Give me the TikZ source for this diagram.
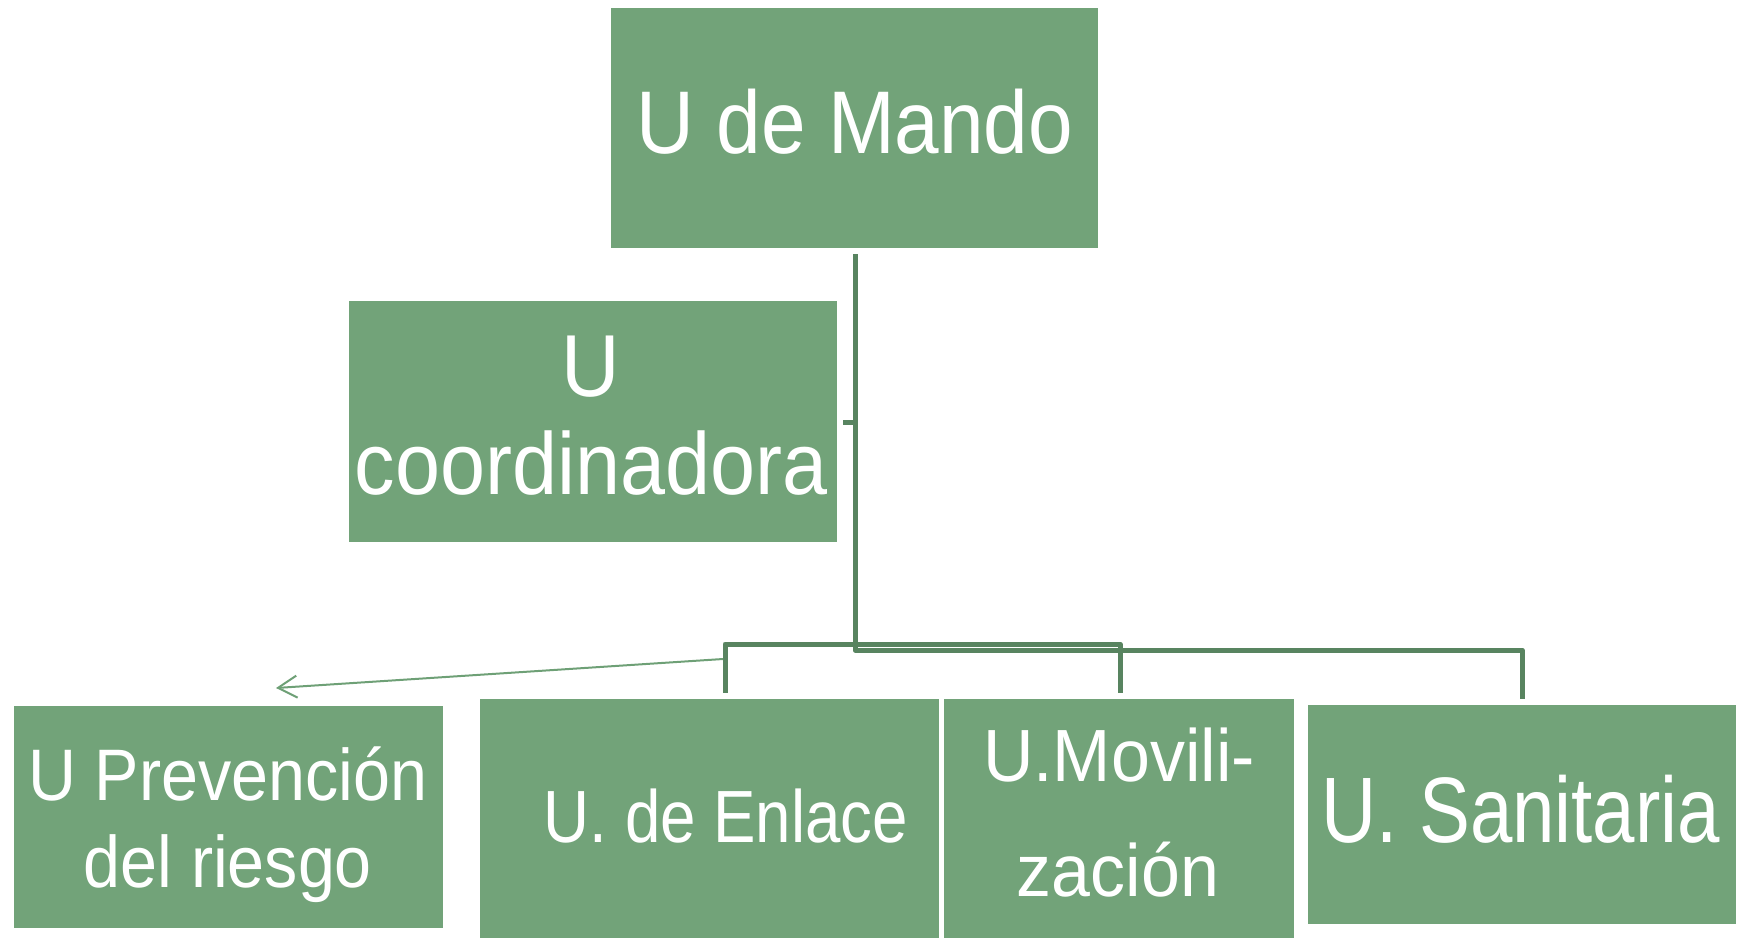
\documentclass[tikz,border=0pt]{standalone}
\usepackage{fontspec}
\setmainfont{Liberation Sans}
\usepackage{graphicx}
\usetikzlibrary{arrows.meta}
\definecolor{boxgreen}{RGB}{114,163,121}
\definecolor{linegreen}{RGB}{88,132,96}
\definecolor{arrowgreen}{RGB}{110,160,118}
\newcommand{\cx}[2]{\scalebox{#1}[1]{#2}}
\tikzset{
  box/.style={rectangle, fill=boxgreen, draw=none, inner sep=0pt},
  txt/.style={anchor=base, text=white, inner sep=0pt},
  conn/.style={draw=linegreen, line width=5pt, line join=round},
  thinarrow/.style={draw=arrowgreen, line width=2pt, {Straight Barb[length=19pt,width=22pt,line width=2pt]}-}
}
\begin{document}
\begin{tikzpicture}[x=1pt,y=-1pt]
\useasboundingbox (0,0) rectangle (1738,938);
% boxes
\node[box, minimum width=487pt, minimum height=240pt] (mando) at (854.5,128) {};
\node[box, minimum width=488pt, minimum height=241pt] (coord) at (593,421.5) {};
\node[box, minimum width=429pt, minimum height=222pt] (prev) at (228.5,817) {};
\node[box, minimum width=459pt, minimum height=239pt] (enl) at (709.5,818.5) {};
\node[box, minimum width=350pt, minimum height=239pt] (movil) at (1119,818.5) {};
\node[box, minimum width=428pt, minimum height=219pt] (sanit) at (1522,814.5) {};
% texts
\node[txt, font=\fontsize{89}{100}\selectfont] (tmando) at (855,153) {\cx{0.90}{U de Mando}};
\node[txt, font=\fontsize{88}{100}\selectfont] (tcoord1) at (591,396) {\cx{0.92}{U}};
\node[txt, font=\fontsize{88}{100}\selectfont] (tcoord2) at (591,494) {\cx{0.92}{coordinadora}};
\node[txt, font=\fontsize{73}{90}\selectfont] (tprev1) at (228,800) {\cx{0.91}{U Prevención}};
\node[txt, font=\fontsize{73}{90}\selectfont] (tprev2) at (228,887) {\cx{0.91}{del riesgo}};
\node[txt, font=\fontsize{74}{90}\selectfont] (tenl) at (726,842) {\cx{0.86}{U. de Enlace}};
\node[txt, font=\fontsize{74}{90}\selectfont] (tmov1) at (1119,781) {\cx{0.945}{U.Movili-}};
\node[txt, font=\fontsize{74}{90}\selectfont] (tmov2) at (1118,896) {\cx{0.945}{zación}};
\node[txt, font=\fontsize{93}{100}\selectfont] (tsan) at (1521,842) {\cx{0.82}{U. Sanitaria}};
% connectors
\coordinate (top) at (855,254);
\coordinate (j1) at (855,644);
\coordinate (j2) at (855,650);
\coordinate (enlTop) at (725,693);
\coordinate (movTop) at (1120,693);
\coordinate (sanTop) at (1522,699);
\draw[conn] (top) -- (j1) -| (enlTop);
\draw[conn] (j1) -| (movTop);
\draw[conn] (top) -- (j2) -| (sanTop);
\coordinate (tick) at (843,422);
\draw[conn] (tick) -- (855,422);
\coordinate (arrowStart) at (723,659);
\coordinate (arrowTip) at (276,688);
\draw[thinarrow] (arrowTip) -- (arrowStart);
\end{tikzpicture}
\end{document}
